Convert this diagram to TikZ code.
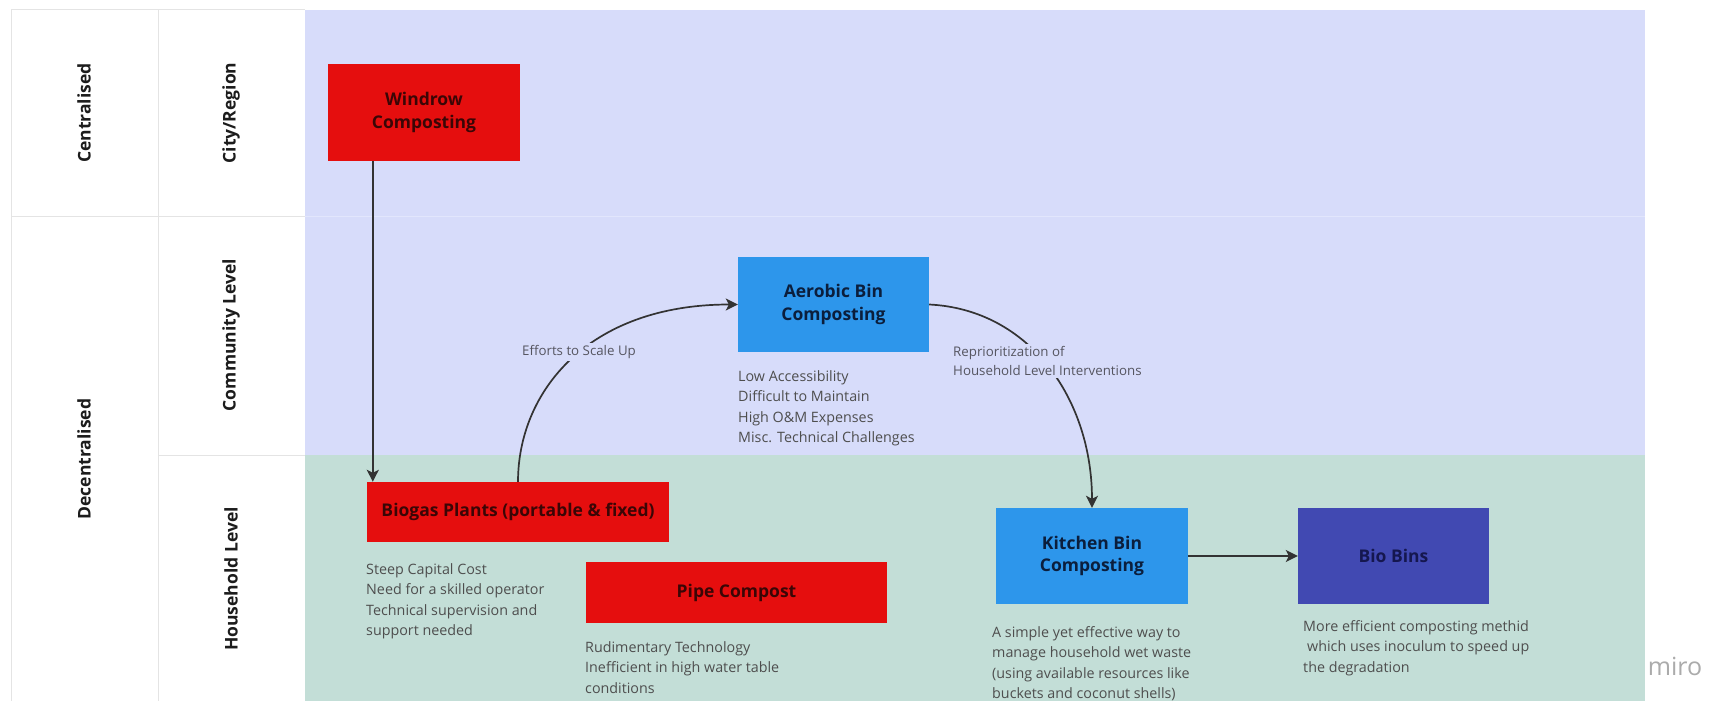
\documentclass[tikz,border=0pt]{standalone}
\usepackage{fontspec}
\setmainfont{Open Sans}
\usetikzlibrary{arrows.meta}
\definecolor{lav}{HTML}{D7DCFA}
\definecolor{lavline}{HTML}{E2E6FC}
\definecolor{grn}{HTML}{C3DED7}
\definecolor{gridc}{HTML}{E4E4E4}
\definecolor{redbox}{HTML}{E50E0E}
\definecolor{bluebox}{HTML}{2D96EB}
\definecolor{biobox}{HTML}{4149B2}
\definecolor{redtext}{HTML}{3A0606}
\definecolor{bluetext}{HTML}{0B1E3C}
\definecolor{biotext}{HTML}{15174F}
\definecolor{notegray}{HTML}{4E4E4E}
\definecolor{lblgray}{HTML}{555560}
\definecolor{hdrtext}{HTML}{1C1C1C}
\definecolor{arrowgray}{HTML}{333333}
\definecolor{mirogray}{HTML}{ABABAB}
\begin{document}
\begin{tikzpicture}[x=1pt,y=-1pt,
  box/.style={rectangle, inner sep=0pt, align=center, font=\fontsize{17.5}{22.5}\selectfont\bfseries},
  note/.style={anchor=north west, inner sep=0pt, align=left, font=\fontsize{14.3}{20.5}\selectfont, text=notegray},
  hdr/.style={rotate=90, inner sep=0pt, font=\fontsize{17.5}{21}\selectfont\bfseries, text=hdrtext},
  conn/.style={draw=arrowgray, line width=1.7pt, -{Stealth[length=12pt,width=12pt,inset=3pt]}},
  lbl/.style={font=\fontsize{13.3}{19}\selectfont, text=lblgray, fill=lav, inner sep=2pt, align=left}
]
\useasboundingbox (0,0) rectangle (1710,701);
\fill[white] (0,0) rectangle (1710,701);
% backgrounds
\fill[lav] (305,10) rectangle (1645,455);
\fill[grn] (305,455) rectangle (1645,703);
\draw[lavline, line width=1pt] (305,216) -- (1645,216);
% table grid
\draw[gridc, line width=1pt] (11,10) -- (305,10);
\draw[gridc, line width=1pt] (11,10) -- (11,703);
\draw[gridc, line width=1pt] (158,10) -- (158,703);
\draw[gridc, line width=1pt] (11,216) -- (305,216);
\draw[gridc, line width=1pt] (158,455) -- (305,455);
% headers
\node[hdr] (hcent) at (84,113) {Centralised};
\node[hdr] (hdec) at (84,459) {Decentralised};
\node[hdr] (hcity) at (231,113) {City/Region};
\node[hdr] (hcomm) at (231,335) {Community Level};
\node[hdr] (hhouse) at (231,579) {Household Level};
% boxes
\node[box, fill=redbox, text=redtext, minimum width=192pt, minimum height=97pt] (windrow) at (424,112.5) {Windrow\\Composting};
\node[box, fill=redbox, text=redtext, minimum width=302pt, minimum height=60pt] (biogas) at (518,512) {Biogas Plants (portable \& fixed)};
\node[box, fill=redbox, text=redtext, minimum width=301pt, minimum height=61pt] (pipe) at (736.5,592.5) {Pipe Compost};
\node[box, fill=bluebox, text=bluetext, minimum width=191pt, minimum height=95pt] (aerobic) at (833.5,304.5) {Aerobic Bin\\Composting};
\node[box, fill=bluebox, text=bluetext, minimum width=192pt, minimum height=96pt] (kitchen) at (1092,556) {Kitchen Bin\\Composting};
\node[box, fill=biobox, text=biotext, minimum width=191pt, minimum height=96pt] (biobins) at (1393.5,556) {Bio Bins};
% notes
\node[note] (nbiogas) at (366,563) {Steep Capital Cost\\Need for a skilled operator\\Technical supervision and\\support needed};
\node[note] (npipe) at (585,641) {Rudimentary Technology\\Inefficient in high water table\\conditions};
\node[note] (naerobic) at (738,370) {Low Accessibility\\Difficult to Maintain\\High O\&M Expenses\\Misc. Technical Challenges};
\node[note] (nkitchen) at (992,626) {A simple yet effective way to\\manage household wet waste\\(using available resources like\\buckets and coconut shells)};
\node[note] (nbio) at (1303,620) {More efficient composting methid\\\hspace{4pt}which uses inoculum to speed up\\the degradation};
% connectors
\coordinate (w1) at ([xshift=45pt]windrow.south west);
\draw[conn] (w1) -- (w1 |- biogas.north);
\draw[conn] (biogas.north) .. controls +(0,-90) and +(-150,0) .. (aerobic.west);
\draw[conn] (aerobic.east) .. controls +(101,5) and +(0,-108) .. (kitchen.north);
\draw[conn] (kitchen.east) -- (biobins.west);
% connector labels
\node[lbl] (leff) at (579,352) {Efforts to Scale Up};
\node[lbl, anchor=north west] (lrep) at (951,344) {Reprioritization of\\Household Level Interventions};
% watermark
\node[font=\fontsize{25}{30}\selectfont, text=mirogray, inner sep=0pt] (miro) at (1675,666) {miro};
\end{tikzpicture}
\end{document}
